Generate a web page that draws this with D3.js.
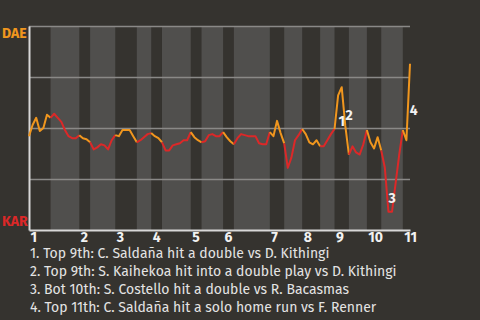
<!DOCTYPE html>
<html>
<head>
<meta charset="utf-8">
<script src="https://cdn.jsdelivr.net/npm/d3@7"></script>
<style>
  html, body { margin: 0; padding: 0; background: #35332f; }
  svg { display: block; }
  text { font-family: "Fira Sans", Lato, "Open Sans", sans-serif; }
</style>
</head>
<body>
<svg id="chart" width="480" height="320"></svg>
<script>
// ---- data ----
const teams = ["DAE", "KAR"];               // away (top of chart), home (bottom)
const innings = ["1","2","3","4","5","6","7","8","9","10","11"];
// plays per half-inning: top 1, bot 1, top 2, bot 2, ...
const halfCounts = [6, 8, 3, 7, 6, 4, 3, 8, 3, 6, 3, 10, 4, 5, 5, 4, 4, 5, 4, 6, 2];
const startWP = 46; // DAE win probability (%) before first pitch
// DAE win probability (%) after each play
const wpAfterPlay = [
  51.5, 55, 48.5, 50, 56.5, 55,            // top 1
  57, 55, 53, 49, 46, 45, 45, 46.5,        // bot 1
  45, 44.5, 43,                            // top 2
  39.5, 40.5, 42, 41.5, 39.5, 44, 46.5,    // bot 2
  46, 49, 49, 49, 46, 43,                  // top 3
  44, 45.5, 47, 47.5,                      // bot 3
  46, 45, 43,                              // top 4
  39, 39, 41.5, 42, 42.5, 44, 44, 48,      // bot 4
  45.5, 44, 43,                            // top 5
  43.5, 46.5, 47, 46, 46, 48,              // bot 5
  45.5, 43.5, 42,                          // top 6
  45, 47, 46.5, 46, 46, 46, 42.5, 42, 42, 48, // bot 6
  46, 53.5, 47.5, 42.5,                    // top 7
  30.5, 35.5, 44, 46.5, 49.5,              // bot 7
  47, 43, 42, 44, 41,                      // top 8
  41, 44, 47, 49.5,                        // bot 8
  66, 70, 51, 37,                          // top 9
  41, 38, 37, 42, 49,                      // bot 9
  43, 40, 45.5, 39,                        // top 10
  30.5, 9, 9, 23, 37, 49,                  // bot 10
  44, 81.5                                 // top 11
];
const gridValues = [25, 50, 75, 100];
const eventPlays = [86, 88, 100, 106];
const eventTexts = [
  "Top 9th: C. Saldaña hit a double vs D. Kithingi",
  "Top 9th: S. Kaihekoa hit into a double play vs D. Kithingi",
  "Bot 10th: S. Costello hit a double vs R. Bacasmas",
  "Top 11th: C. Saldaña hit a solo home run vs F. Renner"
];

// ---- layout ----
const W = 480, H = 320;
const plot = { left: 29, right: 410, top: 26, bottom: 230 };
const colors = { bg: "#35332f", band: "#504f4d", away: "#f0961e", home: "#dc2828",
                 grid: "#8a8987", axis: "#d8d8d8", text: "#e4e4e4" };

const svg = d3.select("#chart");
svg.append("rect").attr("width", W).attr("height", H).attr("fill", colors.bg);

const points = [startWP].concat(wpAfterPlay);
const totalPlays = wpAfterPlay.length;

const x = d3.scaleLinear().domain([0, totalPlays]).range([plot.left, plot.right]);
const y = d3.scaleLinear().domain([0, 100]).range([plot.bottom, plot.top]);

// half-inning spans
const halves = [];
let acc = 0;
halfCounts.forEach((n, i) => {
  halves.push({ idx: i, start: acc, end: acc + n, top: i % 2 === 0, inning: Math.floor(i / 2) });
  acc += n;
});

// background bands for bottom halves
svg.append("g").selectAll("rect")
  .data(halves.filter(h => !h.top))
  .join("rect")
  .attr("x", d => x(d.start))
  .attr("width", d => x(d.end) - x(d.start))
  .attr("y", y(100))
  .attr("height", y(0) - y(100))
  .attr("fill", colors.band);

// gridlines
svg.append("g").selectAll("line")
  .data(gridValues)
  .join("line")
  .attr("x1", x(0)).attr("x2", x(totalPlays))
  .attr("y1", d => y(d) + 0.5).attr("y2", d => y(d) + 0.5)
  .attr("stroke", colors.grid).attr("stroke-width", 1.5);

// axes
const inningStarts = halves.filter(h => h.top).map(h => h.start);
const xAxis = d3.axisBottom(x)
  .tickValues(inningStarts)
  .tickSize(0)
  .tickPadding(2)
  .tickFormat((d, i) => innings[i]);
const gx = svg.append("g").attr("transform", `translate(0,${y(0)})`).call(xAxis);
gx.select(".domain").attr("stroke", colors.axis).attr("stroke-width", 2);
gx.selectAll("text")
  .attr("text-anchor", "start")
  .attr("dx", 1)
  .attr("fill", "#f2f2f2")
  .style("font-size", "14px")
  .style("font-weight", "bold");

const yAxis = d3.axisLeft(y).tickValues([]).tickSize(0);
const gy = svg.append("g").attr("transform", `translate(${x(0)},0)`).call(yAxis);
gy.select(".domain").attr("stroke", colors.axis).attr("stroke-width", 2);

// team labels
svg.append("text").attr("x", 2).attr("y", y(100) + 12)
  .attr("fill", colors.away).style("font-size", "14px").style("font-weight", "bold")
  .text(teams[0]);
svg.append("text").attr("x", 2).attr("y", y(0) - 4)
  .attr("fill", colors.home).style("font-size", "14px").style("font-weight", "bold")
  .text(teams[1]);

// win probability line, coloured by batting team
const line = d3.line().x(d => x(d.i)).y(d => y(d.v));
svg.append("g").selectAll("path")
  .data(halves)
  .join("path")
  .attr("d", h => line(d3.range(h.start, h.end + 1).map(i => ({ i, v: points[i] }))))
  .attr("fill", "none")
  .attr("stroke", h => h.top ? colors.away : colors.home)
  .attr("stroke-width", 2)
  .attr("stroke-linejoin", "round");

// event markers
svg.append("g").selectAll("text")
  .data(eventPlays)
  .join("text")
  .attr("x", p => x(p - 0.5) + 5.5)
  .attr("y", p => y((points[p - 1] + points[p]) / 2) + 13.5)
  .attr("text-anchor", "middle")
  .attr("fill", "#f2f2f2")
  .style("font-size", "14px")
  .style("font-weight", "bold")
  .text((p, i) => i + 1);

// event list
svg.append("g").selectAll("text")
  .data(eventTexts)
  .join("text")
  .attr("x", 30)
  .attr("y", (d, i) => 258 + i * 18)
  .attr("fill", colors.text)
  .style("font-size", "14px")
  .text((d, i) => `${i + 1}. ${d}`);
</script>
</body>
</html>
